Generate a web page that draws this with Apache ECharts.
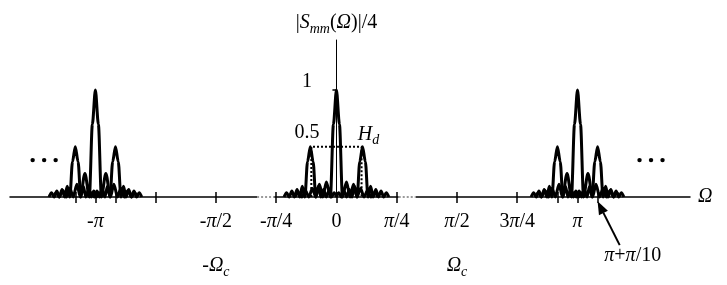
<!DOCTYPE html>
<html>
<head>
<meta charset="utf-8">
<script src="https://cdn.jsdelivr.net/npm/echarts@6.0.0/dist/echarts.min.js"></script>
<style>
  html, body { margin: 0; padding: 0; background: #fff; }
  #chart { width: 727px; height: 285px; }
</style>
</head>
<body>
<div id="chart"></div>
<script>
// x is measured in units of pi/12, y is |Smm(Ω)|/4

// axis ticks and labels
const tickValues = [-13, -12, -11, -9, -6, -3, 0, 3, 6, 9, 11, 12, 13];
const labelValues = [-12, -6, -3, 0, 3, 6, 9, 12];
const labelTexts = ['-π', '-π/2', '-π/4', '0', 'π/4', 'π/2', '3π/4', 'π'];
const cutoffValues = [-6, 6];
const cutoffTexts = ['-Ω', 'Ω'];
const yLabelValues = [0.5, 1];
const yLabelTexts = ['0.5', '1'];

// centre curve of the baseband copy (offsets from 0)
const centerShape0 = [
  [-2.07, 0], [-1.9, 0.04], [-1.72, 0], [-1.55, 0.06], [-1.37, 0], [-1.2, 0.08],
  [-1.02, 0], [-0.85, 0.12], [-0.68, 0], [-0.5, 0.14], [-0.3, 0], [-0.15, 0.68],
  [0, 1], [0.15, 0.68], [0.3, 0], [0.5, 0.14], [0.68, 0], [0.85, 0.12],
  [1.02, 0], [1.2, 0.08], [1.37, 0], [1.55, 0.06], [1.72, 0], [1.9, 0.04], [2.07, 0]
];
// centre curve of the copies at +-pi (offsets from +-pi)
const centerShapePi = [
  [-2.1, 0], [-1.95, 0.04], [-1.8, 0], [-1.62, 0.06], [-1.45, 0], [-1.27, 0.08],
  [-1.1, 0], [-0.92, 0.12], [-0.75, 0], [-0.52, 0.22], [-0.3, 0], [-0.15, 0.68],
  [0, 1], [0.15, 0.68], [0.3, 0], [0.52, 0.22], [0.75, 0], [0.92, 0.12],
  [1.1, 0], [1.27, 0.08], [1.45, 0], [1.62, 0.06], [1.8, 0], [1.95, 0.04], [2.1, 0]
];
// side curve (offsets from its own peak)
const sideShape = [
  [-1.31, 0], [-1.18, 0.04], [-1.05, 0], [-0.92, 0.055], [-0.79, 0], [-0.66, 0.07],
  [-0.53, 0], [-0.4, 0.1], [-0.27, 0], [-0.14, 0.33], [0, 0.47], [0.14, 0.33],
  [0.27, 0], [0.4, 0.1], [0.53, 0], [0.66, 0.07], [0.79, 0], [0.92, 0.055],
  [1.05, 0], [1.18, 0.04], [1.31, 0]
];
const sideOffsets0 = [-1.3, 1.3];
const piCenters = [-12, 12];
const sideOffsetsPi = [-1, 1];

// ideal filter Hd
const hdEdge = 1.25;
const hdLevel = 0.47;
// grey dotted pieces on the axis
const greySegments = [[-3.95, -3.1], [3.1, 3.95]];

// annotations (data coordinates)
const ellipsisAt = [[-14.55, 0.345], [15.66, 0.345]];
const arrowTip = [13, -0.04];
const arrowTail = [14.1, -0.45];
const arrowTextAt = [14.75, -0.55];

const serif = 'Liberation Serif';
const rich = {
  i: { fontFamily: serif, fontStyle: 'italic', fontSize: 20, lineHeight: 22, color: '#000' },
  s: { fontFamily: serif, fontStyle: 'italic', fontSize: 14, lineHeight: 14, padding: [12, 0, 0, 0], color: '#000' }
};

function place(shape, centre) {
  return shape.map(p => [centre + p[0], p[1]]);
}

const curves = [place(centerShape0, 0)];
sideOffsets0.forEach(o => curves.push(place(sideShape, o)));
piCenters.forEach(c => {
  curves.push(place(centerShapePi, c));
  sideOffsetsPi.forEach(o => curves.push(place(sideShape, c + o)));
});

function tickLabel(v) {
  const i = labelValues.indexOf(v);
  if (i < 0) return '';
  let s = labelTexts[i].replace(/π/g, '{i|π}');
  const j = cutoffValues.indexOf(v);
  if (j >= 0) s += '\n\n' + cutoffTexts[j].replace('Ω', '{i|Ω}') + '{s|c}';
  return s;
}

const series = curves.map(d => ({
  type: 'line',
  data: d,
  smooth: 0.3,
  smoothMonotone: 'x',
  symbol: 'none',
  clip: false,
  silent: true,
  lineStyle: { color: '#000', width: 3 },
  z: 3
}));

series.push({
  type: 'line',
  data: [
    [-hdEdge, 0], [-hdEdge, hdLevel],
    {
      value: [hdEdge, hdLevel],
      label: {
        show: true, position: 'top', distance: 1, offset: [7, 0],
        formatter: '{i|H}{s|d}', rich: rich
      }
    },
    [hdEdge, 0]
  ],
  symbol: 'circle',
  symbolSize: 0,
  clip: false,
  silent: true,
  lineStyle: { color: '#000', width: 2, type: 'dotted' },
  z: 4
});

greySegments.forEach(g => {
  series.push({
    type: 'line', data: [[g[0], 0], [g[1], 0]], symbol: 'none', clip: false, silent: true,
    lineStyle: { color: '#fff', width: 3 }, z: 2
  });
  series.push({
    type: 'line', data: [[g[0], 0], [g[1], 0]], symbol: 'none', clip: false, silent: true,
    lineStyle: { color: '#9a9a9a', width: 2, type: 'dotted' }, z: 2
  });
});

const option = {
  animation: false,
  backgroundColor: '#fff',
  textStyle: { fontFamily: serif, color: '#000' },
  grid: { left: 10, right: 37, top: 40, bottom: 88, outerBoundsMode: 'none' },
  xAxis: [
    {
      type: 'value',
      min: -16.25,
      max: 17.6,
      name: 'Ω',
      nameLocation: 'end',
      nameGap: 8,
      nameTextStyle: { fontFamily: serif, fontStyle: 'italic', fontSize: 20, color: '#000' },
      axisLine: { show: true, lineStyle: { color: '#000', width: 1.5 } },
      axisTick: { show: true, length: 6, customValues: tickValues, lineStyle: { color: '#000', width: 1.5 } },
      axisLabel: {
        customValues: labelValues,
        formatter: tickLabel,
        margin: 14,
        fontFamily: serif,
        fontSize: 20,
        lineHeight: 22,
        color: '#000',
        rich: rich
      },
      splitLine: { show: false }
    },
    {
      type: 'value',
      min: -16.25,
      max: 17.6,
      position: 'bottom',
      axisLine: { show: false },
      axisTick: { show: true, inside: true, length: 5, customValues: tickValues, lineStyle: { color: '#000', width: 1.5 } },
      axisLabel: { show: false },
      splitLine: { show: false }
    }
  ],
  yAxis: {
    type: 'value',
    min: 0,
    max: 1.467,
    name: '|{i|S}{s|mm}({i|Ω})|/4',
    nameLocation: 'end',
    nameGap: 6,
    nameTextStyle: { fontFamily: serif, fontSize: 20, lineHeight: 22, color: '#000', rich: rich },
    axisLine: { show: true, onZero: true, lineStyle: { color: '#000', width: 1 } },
    axisTick: { show: true, length: 4, customValues: [1], lineStyle: { color: '#000', width: 1.5 } },
    axisLabel: { show: false },
    splitLine: { show: false }
  },
  series: series
};

const chart = echarts.init(document.getElementById('chart'));
chart.setOption(option);

// annotations and the y tick labels, placed from data coordinates
function px(p) {
  return chart.convertToPixel({ gridIndex: 0 }, p);
}
const gRich = {
  i: { fontFamily: serif, fontStyle: 'italic', fontSize: 20, fill: '#000' },
  n: { fontFamily: serif, fontSize: 20, fill: '#000' }
};
const graphics = [];

// y labels sit up and to the left of their value
const yLabelLift = [10.5, 8];
yLabelValues.forEach((v, k) => {
  const p = px([0, v]);
  graphics.push({
    type: 'text', x: p[0] - 29.5, y: p[1] - yLabelLift[k], silent: true,
    style: { text: yLabelTexts[k], fontFamily: serif, fontSize: 20, fill: '#000', align: 'center', verticalAlign: 'middle' }
  });
});

ellipsisAt.forEach(p => {
  const c = px(p);
  [-1, 0, 1].forEach(k => {
    graphics.push({ type: 'circle', shape: { cx: c[0] + k * 11.5, cy: c[1], r: 2.2 }, style: { fill: '#000' }, silent: true });
  });
});
const tip = px(arrowTip);
const tail = px(arrowTail);
const dx = tip[0] - tail[0];
const dy = tip[1] - tail[1];
const len = Math.hypot(dx, dy);
const ux = dx / len;
const uy = dy / len;
const bx = tip[0] - ux * 13;
const by = tip[1] - uy * 13;
graphics.push({ type: 'line', shape: { x1: tail[0], y1: tail[1], x2: bx, y2: by }, style: { stroke: '#000', lineWidth: 2 }, silent: true });
graphics.push({
  type: 'polygon',
  shape: { points: [tip, [bx - uy * 5, by + ux * 5], [bx + uy * 5, by - ux * 5]] },
  style: { fill: '#000' },
  silent: true
});
const tp = px(arrowTextAt);
graphics.push({
  type: 'text', x: tp[0], y: tp[1], silent: true,
  style: {
    text: '{i|π}{n|+}{i|π}{n|/10}', rich: gRich,
    fontFamily: serif, fontSize: 20, fill: '#000', align: 'center', verticalAlign: 'middle'
  }
});
chart.setOption({ graphic: graphics });
</script>
</body>
</html>
